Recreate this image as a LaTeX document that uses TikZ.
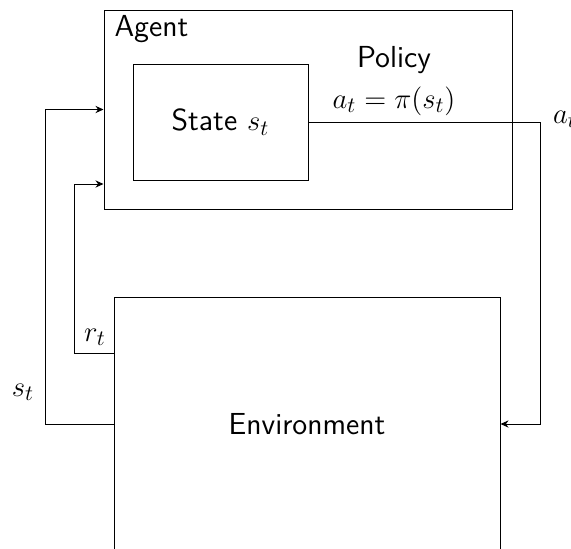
\documentclass[tikz,border=0pt]{standalone}
\usepackage{tikz}
\usetikzlibrary{arrows.meta,calc}
\newcommand\bigtext{\fontsize{15.2pt}{18pt}\selectfont}
\tikzset{
 block/.style={draw,line width=.5pt,inner sep=0,font=\bigtext\sffamily},
 link/.style={line width=.5pt},
 feed/.style={line width=.5pt,-{Stealth[length=4pt,width=3.6pt]}},
 tag/.style={font=\bigtext}
}

\begin{document}
\begin{tikzpicture}[x=5pt,y=5pt]
\clip (0,0) rectangle (57.1,54.8);
% agent with its inner state box
\node[block,minimum width=204pt,minimum height=99.5pt] (agent) at (30.8,43.85) {};
\node[anchor=north west,font=\bigtext\sffamily] (agentname) at ($(agent.north west)+(.4,.1)$) {Agent};
\node[block,minimum width=87.5pt,minimum height=58pt] (state) at (22.05,42.6) {State $s_t$};
\node[tag] (policy) at (39.4,48.8) {\sffamily Policy};
\node[tag] (rule) at (39.4,44.7) {$a_t=\pi(s_t)$};
% environment, runs off the bottom
\node[block,minimum width=193pt,minimum height=127pt] (env) at (30.7,12.4) {Environment};
\coordinate (aout) at (54.0,42.6);
\coordinate (sleft) at (4.5,12.4);
\coordinate (rleft) at (7.4,19.5);
\coordinate (rin) at (7.4,36.4);
\draw[link] (state.east) -- (aout);
\draw[feed] (aout) |- (env.east);
\node[tag,anchor=west] (alabel) at ($(aout)+(.6,.3)$) {$a_t$};
\draw[feed] (env.west) -- (sleft) |- (agent.west);
\draw[feed] (env.west |- rleft) -- (rleft) -- (rin) -- (agent.west |- rin);
\node[tag] (rlabel) at (9.5,21.1) {$r_t$};
\node[tag] (slabel) at (2.3,15.6) {$s_t$};
\end{tikzpicture}
\end{document}
